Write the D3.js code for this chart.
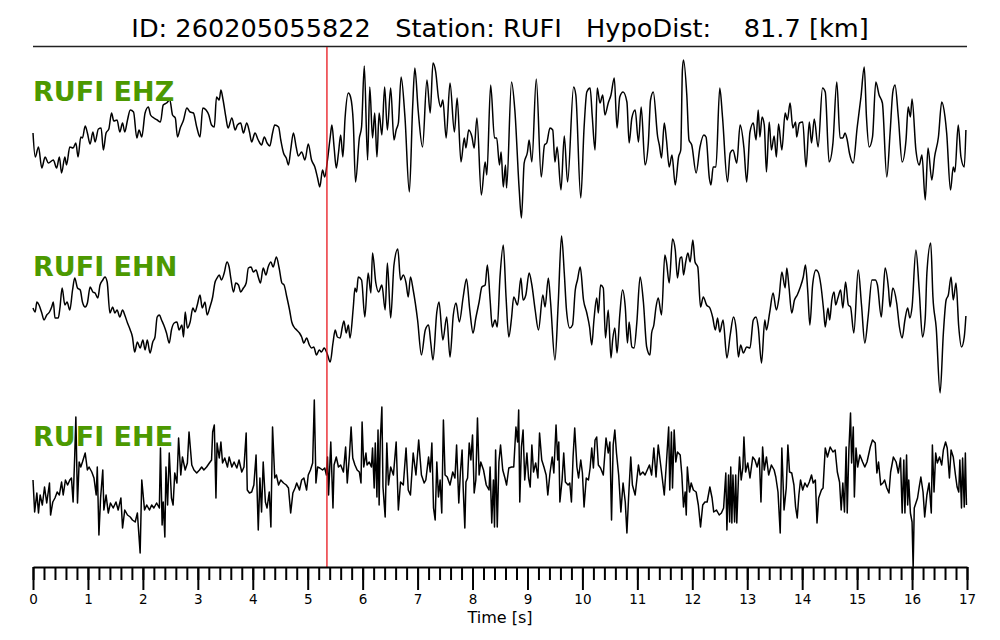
<!DOCTYPE html>
<html>
<head>
<meta charset="utf-8">
<script src="https://cdn.jsdelivr.net/npm/d3@7"></script>
<style>
  body { margin: 0; background: #fff; }
  text { font-family: "DejaVu Sans", sans-serif; }
</style>
</head>
<body>
<div id="chart"></div>
<script>
// Event / station info.
var eventId = "260205055822";
var station = "RUFI";
var hypoDist = 81.7;
var channels = ["EHZ", "EHN", "EHE"];
var pickTime = 5.35;          // P pick [s]
var tickSeconds = [0, 1, 2, 3, 4, 5, 6, 7, 8, 9, 10, 11, 12, 13, 14, 15, 16, 17];

// Traces: [time s, amplitude counts].
var ehzTrace = [[0,7],[0.04,-17],[0.10,-7],[0.16,-28],[0.22,-17],[0.28,-23],[0.37,-20],[0.43,-28],[0.48,-17],[0.52,-33],[0.58,-17],[0.61,-25],[0.67,-7],[0.73,-8],[0.78,-3],[0.82,-17],[0.87,3],[0.90,2],[0.95,14],[0.99,7],[1.04,-4],[1.09,8],[1.13,-2],[1.19,11],[1.24,12],[1.28,-10],[1.33,7],[1.38,11],[1.43,27],[1.47,19],[1.53,20],[1.58,8],[1.63,17],[1.67,8],[1.72,20],[1.77,30],[1.83,28],[1.89,2],[1.93,10],[1.98,3],[2.04,27],[2.10,33],[2.14,25],[2.20,22],[2.26,20],[2.32,18],[2.37,35],[2.43,37],[2.49,40],[2.54,25],[2.59,22],[2.63,3],[2.68,12],[2.74,20],[2.80,32],[2.86,28],[2.92,27],[2.98,13],[3.04,3],[3.09,32],[3.15,30],[3.20,25],[3.25,15],[3.30,13],[3.34,43],[3.39,40],[3.42,50],[3.46,40],[3.51,23],[3.55,12],[3.62,22],[3.68,10],[3.72,15],[3.78,17],[3.83,7],[3.89,17],[3.94,8],[3.98,-2],[4.04,7],[4.10,0],[4.16,-5],[4.21,3],[4.26,-3],[4.31,-6],[4.36,7],[4.40,15],[4.47,13],[4.51,0],[4.56,-13],[4.61,-18],[4.65,-25],[4.69,-10],[4.74,7],[4.79,-7],[4.83,-16],[4.89,-12],[4.95,-20],[5.01,-4],[5.07,-20],[5.13,-27],[5.18,-38],[5.22,-47],[5.27,-30],[5.31,-37],[5.36,-20],[5.41,3],[5.44,15],[5.48,-7],[5.52,-28],[5.56,-13],[5.60,5],[5.64,-17],[5.68,22],[5.74,47],[5.78,43],[5.83,17],[5.87,-42],[5.94,2],[5.98,13],[6.03,74],[6.09,-20],[6.13,53],[6.18,2],[6.22,27],[6.26,-17],[6.30,27],[6.35,5],[6.40,53],[6.45,10],[6.51,52],[6.57,0],[6.61,10],[6.65,17],[6.70,63],[6.77,23],[6.85,-52],[6.91,33],[6.95,72],[7.01,30],[7.09,-7],[7.17,60],[7.23,27],[7.28,77],[7.33,68],[7.38,42],[7.42,33],[7.46,40],[7.52,2],[7.59,57],[7.67,8],[7.72,42],[7.79,-22],[7.85,2],[7.88,-8],[7.93,10],[7.99,3],[8.03,-8],[8.08,22],[8.16,-55],[8.23,-22],[8.26,-35],[8.33,55],[8.40,2],[8.44,2],[8.49,-25],[8.52,-12],[8.56,-47],[8.60,-25],[8.62,-48],[8.71,58],[8.77,30],[8.85,-50],[8.89,-78],[8.94,-23],[9.00,-12],[9.03,0],[9.08,-22],[9.16,61],[9.25,-37],[9.31,-5],[9.35,-3],[9.41,12],[9.46,10],[9.50,-22],[9.54,-7],[9.61,-50],[9.67,4],[9.73,-42],[9.84,53],[9.88,45],[9.97,-58],[10.03,12],[10.08,48],[10.14,52],[10.18,23],[10.23,-10],[10.27,52],[10.32,37],[10.37,45],[10.41,25],[10.47,37],[10.52,45],[10.58,62],[10.63,12],[10.68,43],[10.74,48],[10.81,38],[10.85,-3],[10.90,22],[10.96,30],[11.02,-2],[11.07,33],[11.14,-25],[11.20,-3],[11.24,40],[11.29,48],[11.37,3],[11.40,-5],[11.44,-18],[11.49,17],[11.53,0],[11.58,-27],[11.63,-15],[11.69,-45],[11.75,-17],[11.79,-10],[11.82,70],[11.84,80],[11.90,45],[11.94,0],[11.99,-5],[12.07,-33],[12.14,-7],[12.21,5],[12.25,3],[12.31,-38],[12.34,-45],[12.38,-27],[12.43,-27],[12.50,52],[12.55,23],[12.64,-42],[12.69,-13],[12.74,-10],[12.81,-23],[12.87,15],[12.94,-8],[12.99,-42],[13.05,8],[13.11,17],[13.16,0],[13.20,30],[13.23,3],[13.27,23],[13.31,15],[13.35,-32],[13.40,18],[13.44,-10],[13.49,4],[13.53,-17],[13.57,16],[13.63,-10],[13.69,27],[13.73,20],[13.78,37],[13.83,12],[13.88,18],[13.90,3],[13.95,17],[14.01,18],[14.07,-27],[14.13,18],[14.17,-3],[14.22,21],[14.29,-7],[14.37,52],[14.42,48],[14.49,-22],[14.56,-3],[14.63,58],[14.69,2],[14.74,2],[14.78,7],[14.82,0],[14.86,-13],[14.93,-23],[15.00,12],[15.07,43],[15.13,73],[15.17,23],[15.22,-7],[15.28,3],[15.34,58],[15.40,45],[15.46,37],[15.54,-37],[15.60,7],[15.65,48],[15.69,55],[15.75,23],[15.82,-22],[15.89,0],[15.93,33],[15.97,23],[16.00,41],[16.07,-10],[16.13,-25],[16.18,-15],[16.24,-60],[16.29,-8],[16.36,-40],[16.41,-17],[16.48,3],[16.54,38],[16.60,23],[16.63,7],[16.70,-50],[16.75,-27],[16.78,-32],[16.84,15],[16.89,-17],[16.95,-27],[16.98,10]];

var ehnTrace = [[0,7],[0.04,3],[0.07,13],[0.11,10],[0.16,2],[0.20,-5],[0.25,0],[0.30,3],[0.34,8],[0.37,13],[0.40,-3],[0.46,-3],[0.49,7],[0.53,27],[0.58,10],[0.62,13],[0.67,5],[0.72,25],[0.76,37],[0.81,27],[0.86,25],[0.90,13],[0.95,8],[0.99,12],[1.04,28],[1.09,23],[1.13,22],[1.18,17],[1.22,30],[1.27,35],[1.31,38],[1.35,33],[1.40,2],[1.45,8],[1.49,2],[1.53,5],[1.58,-2],[1.63,5],[1.67,0],[1.72,-8],[1.77,-15],[1.81,-22],[1.85,-37],[1.90,-27],[1.95,-33],[2.00,-25],[2.04,-35],[2.08,-25],[2.13,-38],[2.18,-27],[2.22,-22],[2.26,-2],[2.30,0],[2.34,-5],[2.38,-10],[2.43,-18],[2.48,-28],[2.52,-15],[2.57,-8],[2.62,-7],[2.66,-15],[2.71,-10],[2.74,-22],[2.77,3],[2.81,-13],[2.86,-7],[2.91,7],[2.95,3],[2.99,10],[3.04,20],[3.08,7],[3.13,13],[3.17,0],[3.22,8],[3.27,18],[3.31,32],[3.35,37],[3.39,40],[3.43,35],[3.48,42],[3.53,53],[3.57,48],[3.60,37],[3.65,23],[3.69,32],[3.74,30],[3.78,23],[3.83,27],[3.88,32],[3.92,47],[3.97,48],[4.01,43],[4.06,45],[4.10,38],[4.14,32],[4.19,47],[4.24,40],[4.28,48],[4.33,53],[4.37,48],[4.43,58],[4.48,47],[4.53,32],[4.57,30],[4.62,18],[4.67,5],[4.71,-7],[4.75,-12],[4.80,-15],[4.85,-18],[4.89,-22],[4.93,-28],[4.98,-23],[5.03,-30],[5.07,-33],[5.11,-32],[5.16,-40],[5.21,-35],[5.25,-37],[5.30,-33],[5.35,-38],[5.41,-47],[5.46,-28],[5.50,-15],[5.54,-22],[5.59,-23],[5.63,-12],[5.66,-6],[5.70,-18],[5.74,-10],[5.77,-23],[5.83,8],[5.86,27],[5.89,23],[5.92,38],[5.98,35],[6.04,-2],[6.10,42],[6.15,22],[6.18,62],[6.24,32],[6.29,23],[6.35,30],[6.41,5],[6.45,52],[6.51,-3],[6.57,50],[6.64,66],[6.69,35],[6.74,40],[6.79,32],[6.83,18],[6.87,38],[6.92,25],[7.00,-5],[7.07,-40],[7.14,-15],[7.20,-10],[7.24,-28],[7.28,-45],[7.35,3],[7.39,13],[7.46,-25],[7.53,-2],[7.59,-42],[7.65,0],[7.70,12],[7.76,-7],[7.83,18],[7.89,36],[7.95,5],[8.01,-18],[8.06,-3],[8.12,13],[8.17,28],[8.23,30],[8.27,50],[8.32,15],[8.36,-12],[8.41,-5],[8.45,-12],[8.50,38],[8.56,70],[8.61,18],[8.66,-22],[8.71,-3],[8.75,18],[8.82,10],[8.88,37],[8.92,15],[8.97,20],[9.03,42],[9.08,30],[9.14,5],[9.20,-15],[9.28,20],[9.32,8],[9.38,37],[9.42,13],[9.50,-45],[9.56,12],[9.62,79],[9.67,42],[9.71,5],[9.77,-13],[9.82,-10],[9.87,25],[9.91,35],[9.96,48],[10.02,15],[10.08,2],[10.13,-12],[10.17,-30],[10.21,-5],[10.26,17],[10.29,2],[10.33,30],[10.38,27],[10.42,-23],[10.47,5],[10.52,-43],[10.55,-25],[10.59,-13],[10.63,-38],[10.68,0],[10.73,25],[10.78,8],[10.82,-28],[10.85,-7],[10.90,-32],[10.94,-33],[10.99,-8],[11.05,38],[11.11,13],[11.17,-32],[11.23,-40],[11.26,-18],[11.30,-10],[11.34,8],[11.38,17],[11.44,0],[11.50,60],[11.53,53],[11.58,32],[11.64,76],[11.69,65],[11.73,37],[11.78,57],[11.81,58],[11.84,40],[11.88,53],[11.92,62],[11.96,53],[12.01,75],[12.05,53],[12.10,48],[12.15,8],[12.20,18],[12.26,10],[12.32,7],[12.37,-2],[12.42,-15],[12.46,-3],[12.50,-17],[12.56,-5],[12.63,-43],[12.69,-20],[12.75,-2],[12.80,-15],[12.84,-42],[12.88,-30],[12.93,-38],[12.99,-32],[13.05,-33],[13.11,-5],[13.16,-2],[13.20,-12],[13.26,-48],[13.32,-5],[13.35,-15],[13.41,3],[13.47,22],[13.53,5],[13.58,18],[13.63,43],[13.69,27],[13.72,47],[13.76,28],[13.81,2],[13.86,15],[13.91,20],[13.96,27],[14.02,38],[14.06,50],[14.10,25],[14.14,-10],[14.19,30],[14.25,45],[14.29,43],[14.34,30],[14.39,5],[14.42,-12],[14.47,7],[14.50,-5],[14.54,15],[14.58,23],[14.61,10],[14.65,17],[14.70,25],[14.74,7],[14.79,33],[14.84,10],[14.88,8],[14.94,-18],[15.02,45],[15.08,10],[15.14,-28],[15.20,-2],[15.27,35],[15.33,35],[15.37,30],[15.44,-2],[15.47,17],[15.51,47],[15.57,27],[15.60,8],[15.65,27],[15.72,12],[15.77,-12],[15.82,-23],[15.87,-5],[15.92,7],[15.96,-3],[16.00,8],[16.07,65],[16.13,25],[16.19,-22],[16.24,-3],[16.27,42],[16.34,72],[16.38,18],[16.44,-13],[16.51,-78],[16.57,-18],[16.62,15],[16.66,20],[16.71,38],[16.75,15],[16.80,32],[16.85,-12],[16.90,-32],[16.95,-22],[16.98,-1]];

var eheTrace = [[0,5],[0.03,-27],[0.07,-8],[0.10,-28],[0.13,-10],[0.17,-20],[0.21,-2],[0.25,-18],[0.30,2],[0.32,-30],[0.36,-17],[0.40,-13],[0.44,-7],[0.48,-10],[0.52,3],[0.55,-10],[0.59,5],[0.63,0],[0.67,5],[0.70,7],[0.73,-17],[0.76,30],[0.78,68],[0.81,-18],[0.84,23],[0.87,18],[0.90,23],[0.95,32],[0.99,15],[1.02,18],[1.07,13],[1.11,7],[1.15,-10],[1.17,18],[1.20,-50],[1.23,-13],[1.27,15],[1.29,-25],[1.33,-10],[1.37,-28],[1.41,-18],[1.46,-23],[1.51,-17],[1.55,-25],[1.60,-13],[1.63,-43],[1.67,-25],[1.72,-30],[1.77,-32],[1.81,-35],[1.86,-37],[1.90,-28],[1.95,-68],[1.98,5],[2.03,-25],[2.07,-20],[2.12,-25],[2.16,-20],[2.20,-23],[2.25,-18],[2.30,-23],[2.32,37],[2.35,-40],[2.37,-17],[2.40,-52],[2.42,18],[2.45,-20],[2.48,32],[2.52,-13],[2.55,-20],[2.58,12],[2.62,2],[2.65,47],[2.69,10],[2.72,28],[2.77,15],[2.81,22],[2.84,53],[2.89,20],[2.93,15],[2.98,12],[3.03,15],[3.07,18],[3.11,15],[3.16,18],[3.21,22],[3.25,25],[3.27,53],[3.30,60],[3.33,-13],[3.35,42],[3.39,27],[3.42,43],[3.45,22],[3.49,27],[3.54,18],[3.57,28],[3.62,18],[3.66,23],[3.71,17],[3.75,25],[3.80,13],[3.84,18],[3.88,52],[3.90,-5],[3.94,-8],[3.98,-7],[4.02,0],[4.06,30],[4.10,-45],[4.13,7],[4.16,-27],[4.19,23],[4.23,-17],[4.26,-23],[4.30,-7],[4.33,-42],[4.36,58],[4.40,7],[4.43,10],[4.47,0],[4.51,5],[4.56,2],[4.61,0],[4.65,-3],[4.69,-28],[4.73,-8],[4.77,-3],[4.80,2],[4.85,-5],[4.89,5],[4.93,7],[4.98,-5],[5.01,10],[5.05,15],[5.09,22],[5.12,85],[5.15,2],[5.18,18],[5.22,17],[5.27,15],[5.31,17],[5.34,10],[5.36,28],[5.38,-10],[5.42,43],[5.46,-23],[5.48,20],[5.52,28],[5.56,18],[5.60,20],[5.65,13],[5.69,38],[5.72,2],[5.76,30],[5.79,58],[5.82,27],[5.86,20],[5.90,15],[5.94,13],[5.97,2],[5.99,63],[6.02,18],[6.06,32],[6.08,20],[6.12,23],[6.16,18],[6.18,37],[6.21,-3],[6.23,42],[6.26,-12],[6.28,55],[6.30,-20],[6.32,43],[6.35,78],[6.37,-2],[6.41,-32],[6.44,42],[6.47,0],[6.51,18],[6.56,10],[6.61,43],[6.65,-25],[6.69,3],[6.74,0],[6.79,37],[6.83,-5],[6.87,-10],[6.92,32],[6.97,10],[7.02,45],[7.07,10],[7.12,2],[7.15,5],[7.20,28],[7.23,13],[7.26,42],[7.29,-23],[7.32,-35],[7.35,23],[7.38,-12],[7.41,5],[7.44,-28],[7.47,65],[7.50,10],[7.54,8],[7.59,0],[7.64,13],[7.68,7],[7.71,40],[7.75,-18],[7.78,13],[7.81,35],[7.83,-3],[7.86,-43],[7.88,3],[7.91,7],[7.94,42],[7.97,25],[8.00,50],[8.03,-8],[8.06,5],[8.09,67],[8.12,10],[8.15,23],[8.20,15],[8.25,0],[8.30,-5],[8.32,18],[8.35,-38],[8.38,5],[8.40,-42],[8.42,35],[8.45,-42],[8.48,23],[8.51,40],[8.55,15],[8.59,7],[8.62,0],[8.66,17],[8.71,18],[8.75,18],[8.79,58],[8.82,43],[8.84,75],[8.86,-17],[8.89,38],[8.92,55],[8.95,5],[8.99,32],[9.02,7],[9.05,-2],[9.08,40],[9.11,13],[9.15,22],[9.19,7],[9.22,52],[9.26,25],[9.30,18],[9.34,10],[9.37,-10],[9.41,12],[9.45,28],[9.48,12],[9.52,60],[9.55,25],[9.57,43],[9.59,-17],[9.63,5],[9.66,32],[9.69,3],[9.74,0],[9.77,2],[9.80,-17],[9.83,28],[9.86,57],[9.90,18],[9.93,7],[9.97,25],[10.00,12],[10.03,-22],[10.07,7],[10.11,5],[10.14,17],[10.17,37],[10.20,17],[10.23,45],[10.26,48],[10.29,20],[10.33,17],[10.38,10],[10.43,47],[10.47,32],[10.50,43],[10.53,-35],[10.56,40],[10.59,55],[10.62,32],[10.66,10],[10.70,-27],[10.74,2],[10.78,-17],[10.81,-48],[10.84,-13],[10.88,28],[10.91,0],[10.96,-10],[10.99,5],[11.02,20],[11.05,10],[11.10,13],[11.14,10],[11.18,15],[11.22,20],[11.26,10],[11.30,37],[11.34,8],[11.38,40],[11.44,13],[11.49,-10],[11.53,23],[11.57,58],[11.59,-5],[11.62,53],[11.64,-3],[11.67,55],[11.70,23],[11.73,33],[11.78,30],[11.81,10],[11.84,-22],[11.87,-7],[11.89,-30],[11.91,18],[11.95,-7],[11.98,2],[12.02,-5],[12.07,-7],[12.11,-20],[12.15,-42],[12.19,-20],[12.23,-17],[12.27,-17],[12.32,-2],[12.36,-13],[12.39,-27],[12.44,-25],[12.49,-30],[12.53,-28],[12.57,-23],[12.61,12],[12.63,-45],[12.66,10],[12.68,-37],[12.70,18],[12.72,-38],[12.74,10],[12.77,-37],[12.79,10],[12.81,-38],[12.84,7],[12.86,28],[12.89,5],[12.92,17],[12.94,48],[12.97,13],[13.01,22],[13.05,7],[13.10,28],[13.14,25],[13.18,18],[13.22,27],[13.25,-17],[13.28,38],[13.31,15],[13.35,28],[13.39,10],[13.44,20],[13.49,15],[13.52,8],[13.56,-7],[13.60,-48],[13.63,37],[13.67,-25],[13.71,-3],[13.74,40],[13.77,13],[13.81,12],[13.85,0],[13.88,-22],[13.91,-33],[13.94,-10],[13.97,5],[14.01,-5],[14.05,2],[14.09,-2],[14.13,3],[14.17,10],[14.20,2],[14.24,5],[14.27,-38],[14.30,-13],[14.35,-5],[14.38,-3],[14.42,37],[14.46,28],[14.51,38],[14.56,33],[14.60,35],[14.64,13],[14.68,3],[14.71,-25],[14.74,2],[14.77,-27],[14.80,38],[14.82,-28],[14.85,35],[14.88,72],[14.90,22],[14.93,58],[14.95,-12],[14.98,37],[15.01,18],[15.05,30],[15.10,23],[15.14,18],[15.18,23],[15.24,38],[15.28,45],[15.33,42],[15.36,12],[15.39,23],[15.43,0],[15.47,2],[15.50,5],[15.54,-3],[15.58,-8],[15.61,13],[15.66,28],[15.71,23],[15.75,12],[15.79,27],[15.82,-28],[15.85,25],[15.87,-28],[15.90,30],[15.92,-20],[15.94,5],[15.97,-28],[16.00,-37],[16.02,-83],[16.04,-23],[16.07,-18],[16.10,-13],[16.13,-2],[16.16,8],[16.20,-7],[16.23,-32],[16.27,-10],[16.31,2],[16.35,-28],[16.37,40],[16.40,-7],[16.43,32],[16.46,22],[16.50,28],[16.54,20],[16.57,35],[16.61,43],[16.64,37],[16.68,7],[16.71,35],[16.75,28],[16.79,10],[16.82,-2],[16.85,-7],[16.87,25],[16.90,-23],[16.92,27],[16.95,-22],[16.97,32],[16.99,-20]];

var traces = [ehzTrace, ehnTrace, eheTrace];

var width = 1000;
var height = 640;
var margin = { left: 33, right: 33 };
var traceCenters = [140, 315, 485];
var axisY = 567;
var labelColor = "#4c9900";

var svg = d3.select("#chart").append("svg")
  .attr("width", width)
  .attr("height", height);

var xScale = d3.scaleLinear().domain([0, 17]).range([margin.left, width - margin.right]);

// Title and the rule under it.
svg.append("text")
  .attr("x", width / 2)
  .attr("y", 37)
  .attr("text-anchor", "middle")
  .style("font-size", "25.6px")
  .style("white-space", "pre")
  .text("ID: " + eventId + "   Station: " + station + "   HypoDist:    " + hypoDist.toFixed(1) + " [km]");

svg.append("line")
  .attr("x1", xScale(0)).attr("x2", xScale(17))
  .attr("y1", 46.5).attr("y2", 46.5)
  .attr("stroke", "#222")
  .attr("stroke-width", 1.3);

// One waveform per channel, each on its own offset.
// The two long-period channels are smoothed between samples, EHE stays spiky.
channels.forEach(function(ch, i) {
  var yScale = d3.scaleLinear()
    .domain([-100, 100])
    .range([traceCenters[i] + 100, traceCenters[i] - 100]);

  var line = d3.line()
    .x(function(d) { return xScale(d[0]); })
    .y(function(d) { return yScale(d[1]); })
    .curve(i < 2 ? d3.curveMonotoneX : d3.curveLinear);

  svg.append("path")
    .datum(traces[i])
    .attr("fill", "none")
    .attr("stroke", "#000")
    .attr("stroke-width", 1.5)
    .attr("stroke-linejoin", "round")
    .attr("d", line);

  svg.append("text")
    .attr("x", xScale(0))
    .attr("y", traceCenters[i] - 39)
    .attr("fill", labelColor)
    .style("font-size", "27px")
    .style("font-weight", "bold")
    .text(station + " " + ch);
});

// P pick.
svg.append("line")
  .attr("x1", xScale(pickTime)).attr("x2", xScale(pickTime))
  .attr("y1", 47).attr("y2", axisY)
  .attr("stroke", "#e8141b")
  .attr("stroke-width", 1.3);

// Time axis: minor ticks every 0.2 s, major every second.
var minorAxis = d3.axisBottom(xScale)
  .tickValues(d3.range(0, 17.001, 0.2))
  .tickSize(13)
  .tickSizeOuter(0)
  .tickFormat("");

var majorAxis = d3.axisBottom(xScale)
  .tickValues(tickSeconds)
  .tickSize(23)
  .tickSizeOuter(0)
  .tickPadding(4)
  .tickFormat(d3.format("d"));

var gMinor = svg.append("g")
  .attr("transform", "translate(0," + axisY + ")")
  .call(minorAxis);

var gMajor = svg.append("g")
  .attr("transform", "translate(0," + axisY + ")")
  .call(majorAxis);

gMinor.selectAll("line").attr("stroke", "#000").attr("stroke-width", 2);
gMajor.selectAll("line").attr("stroke", "#000").attr("stroke-width", 2);
gMinor.select(".domain").attr("stroke", "#000").attr("stroke-width", 2.2);
gMajor.select(".domain").remove();
gMajor.selectAll("text")
  .attr("fill", "#000")
  .style("font-family", "'DejaVu Sans', sans-serif")
  .style("font-size", "13.5px");

svg.append("text")
  .attr("x", width / 2)
  .attr("y", 623)
  .attr("text-anchor", "middle")
  .style("font-size", "16px")
  .text("Time [s]");
</script>
</body>
</html>
